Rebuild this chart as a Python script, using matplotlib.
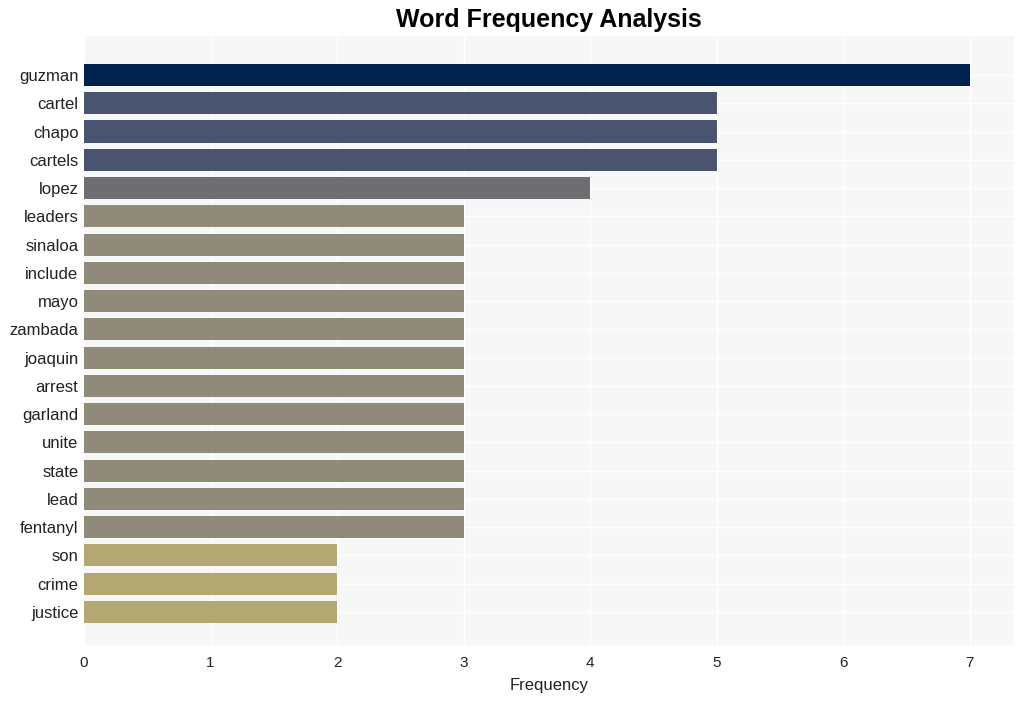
import matplotlib.pyplot as plt

plt.rcParams['font.family'] = ['Liberation Sans', 'DejaVu Sans']

words = ['guzman', 'cartel', 'chapo', 'cartels', 'lopez', 'leaders', 'sinaloa',
         'include', 'mayo', 'zambada', 'joaquin', 'arrest', 'garland', 'unite',
         'state', 'lead', 'fentanyl', 'son', 'crime', 'justice']
counts = [7, 5, 5, 5, 4, 3, 3, 3, 3, 3, 3, 3, 3, 3, 3, 3, 3, 2, 2, 2]

# colour per frequency value
palette = {7: '#00224e', 5: '#4a5470', 4: '#6e6e72', 3: '#8f8a7a', 2: '#b3a772'}

fig = plt.figure(figsize=(10.23, 7.01), dpi=100)
ax = fig.add_axes([84 / 1023, 1 - 645 / 701, (1014 - 84) / 1023, (645 - 36) / 701])
ax.set_facecolor('#f7f7f7')

ypos = list(range(len(words)))
ax.barh(ypos, counts, height=0.78, color=[palette[c] for c in counts], zorder=2)

ax.set_yticks(ypos)
ax.set_yticklabels(words, fontsize=12, color='#222222')
ax.set_ylim(20.17, -1.38)
ax.set_xlim(0, 7.35)
ax.set_xticks(range(8))
ax.tick_params(axis='x', labelsize=11, colors='#222222', length=0, pad=8)
ax.tick_params(axis='y', length=0, pad=4)
ax.grid(True, color='white', linewidth=1, zorder=0)
ax.set_axisbelow(True)
for s in ax.spines.values():
    s.set_visible(False)

ax.set_xlabel('Frequency', fontsize=12, color='#222222', labelpad=6)
fig.text(549 / 1023, 1 - 20 / 701, 'Word Frequency Analysis', fontsize=18,
         fontweight='bold', ha='center', va='center')

fig.savefig('out.png', dpi=100, facecolor='white')
